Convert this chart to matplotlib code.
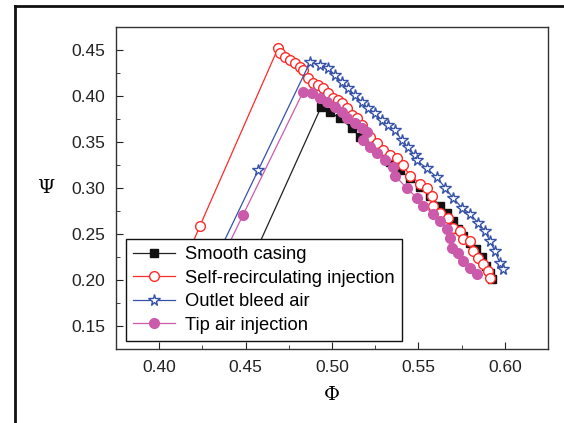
import matplotlib
matplotlib.use('Agg')
import matplotlib.pyplot as plt
from matplotlib.lines import Line2D
from matplotlib.ticker import MultipleLocator

plt.rcParams['font.family'] = ['Liberation Sans', 'DejaVu Sans']

# smooth casing
phi_smooth = [0.4436, 0.4936, 0.4988, 0.5046, 0.5116, 0.5162, 0.5220, 0.5277, 0.5335,
              0.5393, 0.5451, 0.5509, 0.5566, 0.5624, 0.5665, 0.5699, 0.5728, 0.5757,
              0.5798, 0.5832, 0.5867, 0.5890, 0.5913, 0.5925]
psi_smooth = [0.180, 0.3878, 0.3824, 0.3758, 0.3649, 0.3551, 0.3464, 0.3387, 0.3278,
              0.3191, 0.3104, 0.3016, 0.2918, 0.2809, 0.2733, 0.2645, 0.2558, 0.2482,
              0.2405, 0.2340, 0.2253, 0.2155, 0.2078, 0.2013]

# self-recirculating injection
phi_sri = [0.4057, 0.4236, 0.4688, 0.4699, 0.4728, 0.4757, 0.4786, 0.4815, 0.4832,
           0.4861, 0.4890, 0.4919, 0.4948, 0.4977, 0.5006, 0.5035, 0.5058, 0.5087,
           0.5116, 0.5145, 0.5173, 0.5220, 0.5260, 0.5295, 0.5335, 0.5376, 0.5410,
           0.5451, 0.5509, 0.5549, 0.5578, 0.5584, 0.5624, 0.5671, 0.5699, 0.5740,
           0.5757, 0.5798, 0.5815, 0.5844, 0.5873, 0.5902, 0.5913]
psi_sri = [0.180, 0.259, 0.4522, 0.4467, 0.4424, 0.4391, 0.4358, 0.4315, 0.4282,
           0.4195, 0.4140, 0.4118, 0.4085, 0.4031, 0.3976, 0.3955, 0.3922, 0.3867,
           0.3791, 0.3758, 0.3682, 0.3551, 0.3485, 0.3409, 0.3355, 0.3322, 0.3245,
           0.3136, 0.3049, 0.2995, 0.2918, 0.2809, 0.2733, 0.2678, 0.2569, 0.2536,
           0.2449, 0.2427, 0.2318, 0.2242, 0.2176, 0.2100, 0.2024]

# outlet bleed air
phi_bleed = [0.4217, 0.4572, 0.4873, 0.4931, 0.4977, 0.5017, 0.5058, 0.5092, 0.5133,
             0.5173, 0.5208, 0.5249, 0.5289, 0.5324, 0.5364, 0.5405, 0.5439, 0.5480,
             0.5491, 0.5549, 0.5607, 0.5653, 0.5699, 0.5751, 0.5798, 0.5844, 0.5884,
             0.5913, 0.5942, 0.5971, 0.5988]
psi_bleed = [0.180, 0.3191, 0.4369, 0.4336, 0.4304, 0.4227, 0.4151, 0.4085, 0.4009,
             0.3933, 0.3867, 0.3813, 0.3736, 0.3682, 0.3627, 0.3518, 0.3442, 0.3355,
             0.3300, 0.3213, 0.3115, 0.3005, 0.2896, 0.2787, 0.2722, 0.2624, 0.2536,
             0.2427, 0.2318, 0.2187, 0.2122]

# tip air injection
phi_tip = [0.4250, 0.4486, 0.4832, 0.4884, 0.4931, 0.4971, 0.5017, 0.5058, 0.5087,
           0.5133, 0.5173, 0.5202, 0.5179, 0.5220, 0.5260, 0.5306, 0.5353, 0.5364,
           0.5434, 0.5491, 0.5526, 0.5584, 0.5624, 0.5665, 0.5682, 0.5694, 0.5728,
           0.5757, 0.5798, 0.5838]
psi_tip = [0.180, 0.2711, 0.4042, 0.4031, 0.3976, 0.3933, 0.3878, 0.3824, 0.3758,
           0.3704, 0.3649, 0.3605, 0.3518, 0.3442, 0.3376, 0.3300, 0.3224, 0.3136,
           0.2995, 0.2896, 0.2809, 0.2722, 0.2645, 0.2558, 0.2460, 0.2351, 0.2296,
           0.2209, 0.2133, 0.2067]

fig = plt.figure(figsize=(5.64, 4.23), dpi=100)
ax = fig.add_axes([0.2057, 0.1749, 0.766, 0.7612])

ax.plot(phi_smooth, psi_smooth, color='#222222', lw=0.9, marker='s', ms=5.5,
        mfc='#111111', mec='#111111', label='Smooth casing')
ax.plot(phi_sri, psi_sri, color='#ff2a2a', lw=0.9, marker='o', ms=7,
        mfc='white', mec='#ff2a2a', mew=1.0, label='Self-recirculating injection')
ax.plot(phi_bleed, psi_bleed, color='#3552a8', lw=0.9, marker='*', ms=8.5,
        mfc='white', mec='#3552a8', mew=1.0, label='Outlet bleed air')
ax.plot(phi_tip, psi_tip, color='#cc5aaa', lw=0.9, marker='o', ms=7,
        mfc='#cc5aaa', mec='#cc5aaa', label='Tip air injection')

ax.set_xlim(0.375, 0.625)
ax.set_ylim(0.125, 0.475)
ax.xaxis.set_major_locator(MultipleLocator(0.05))
ax.xaxis.set_minor_locator(MultipleLocator(0.025))
ax.yaxis.set_major_locator(MultipleLocator(0.05))
ax.yaxis.set_minor_locator(MultipleLocator(0.025))
ax.xaxis.set_major_formatter(plt.FormatStrFormatter('%.2f'))
ax.yaxis.set_major_formatter(plt.FormatStrFormatter('%.2f'))
ax.tick_params(which='both', direction='in', labelsize=12.5, colors='#222222')
ax.tick_params(which='major', length=5, pad=8)
ax.tick_params(which='minor', length=3)
for s in ax.spines.values():
    s.set_color('#333333')
    s.set_linewidth(1.0)

ax.set_xlabel('Φ', family='DejaVu Serif', fontsize=14, labelpad=8)
ax.set_ylabel('Ψ', family='DejaVu Serif', fontsize=14, rotation=0, labelpad=18, va='center')

leg = ax.legend(loc='lower left', bbox_to_anchor=(0.023, 0.025), borderaxespad=0,
                fontsize=13.2, frameon=True, fancybox=False, handlelength=2.3,
                labelspacing=0.35, borderpad=0.4, handletextpad=0.5)
leg.get_frame().set_edgecolor('#111111')
leg.get_frame().set_linewidth(1.0)
leg.get_frame().set_alpha(1.0)

# page border lines
fig.add_artist(Line2D([0.026, 1.0], [0.986, 0.986], transform=fig.transFigure,
                      color='#111111', lw=2))
fig.add_artist(Line2D([0.027, 0.027], [0.0, 0.986], transform=fig.transFigure,
                      color='#111111', lw=2))

fig.savefig('out.png', dpi=100)
